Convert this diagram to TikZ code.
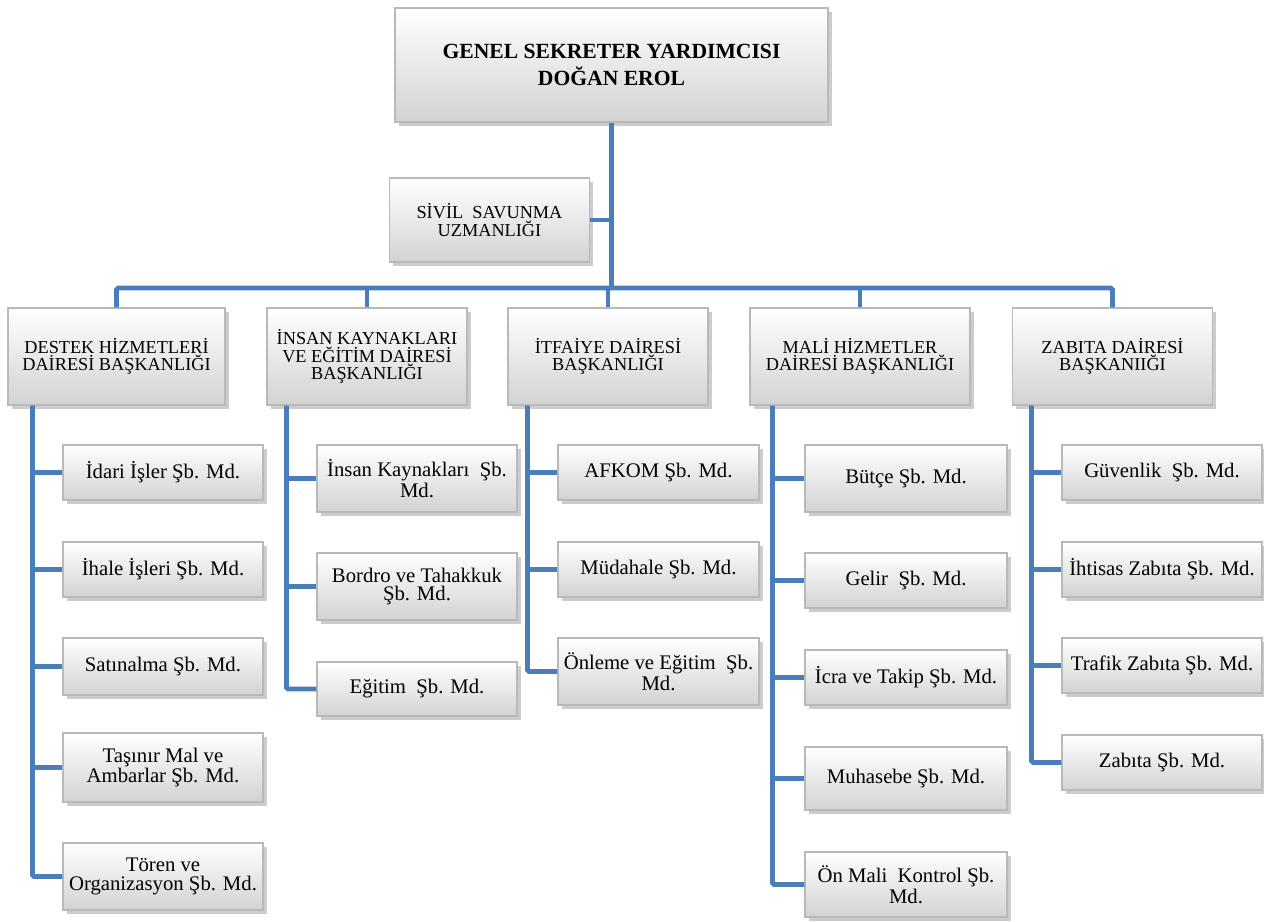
\documentclass[tikz,border=0pt]{standalone}
\usepackage{fontspec}
\setmainfont{Liberation Serif}
\usetikzlibrary{shadows}
\definecolor{linkblue}{HTML}{4A7EBB}

\begin{document}
\begin{tikzpicture}[x=0.02cm,y=-0.02cm,
		wh/.style 2 args={minimum width=#1*0.02cm,minimum height=#2*0.02cm},
		box/.style={draw=gray!55,line width=0.6pt,top color=white,bottom color=gray!35,
			drop shadow={shadow xshift=2pt,shadow yshift=-2.2pt,opacity=0.5,fill=gray!80},
			align=center,inner sep=2pt},
		headbox/.style={box,font=\fontsize{12.3}{15}\selectfont\bfseries},
		deptbox/.style={box,wh={200}{97},font=\fontsize{10.4}{10}\selectfont},
		unitbox/.style={box,font=\fontsize{11.8}{10.5}\selectfont},
		link/.style={draw=linkblue,line width=2.8pt,rounded corners=1pt},
		thinlink/.style={draw=linkblue,line width=1.8pt}]
	\useasboundingbox (0,0) rectangle (1264,921);

	% ust makam
	\node[headbox,wh={433}{114}] (gsy) at (611.5,65) {GENEL SEKRETER YARDIMCISI\\DOĞAN EROL};
	\node[deptbox,wh={200}{84}] (sivil) at (489.5,220) {SİVİL\ \ SAVUNMA\\UZMANLIĞI};

	% daire baskanliklari
	\node[deptbox,wh={217}{97}] (destek) at (116.5,356.5) {DESTEK HİZMETLERİ\\DAİRESİ BAŞKANLIĞI};
	\node[deptbox] (insan) at (367,356.5) {İNSAN KAYNAKLARI\\VE EĞİTİM DAİRESİ\\BAŞKANLIĞI};
	\node[deptbox] (itfaiye) at (608,356.5) {İTFAİYE DAİRESİ\\BAŞKANLIĞI};
	\node[deptbox,wh={220}{97}] (mali) at (860,356.5) {MALİ HİZMETLER\\DAİRESİ BAŞKANLIĞI};
	\node[deptbox] (zabita) at (1112.5,356.5) {ZABITA DAİRESİ\\BAŞKANIIĞI};

	% destek hizmetleri
	\node[unitbox,wh={200}{55}] (idari) at (163,472.5) {İdari İşler Şb. Md.};
	\node[unitbox,wh={200}{55}] (ihale) at (163,569.5) {İhale İşleri Şb. Md.};
	\node[unitbox,wh={200}{57}] (satinalma) at (163,666.5) {Satınalma Şb. Md.};
	\node[unitbox,wh={200}{69}] (tasinir) at (163,767.5) {Taşınır Mal ve\\Ambarlar Şb. Md.};
	\node[unitbox,wh={200}{67}] (toren) at (163,876.5) {Tören ve\\Organizasyon Şb. Md.};

	% insan kaynaklari
	\node[unitbox,wh={200}{67}] (ik) at (417,478.5) {İnsan Kaynakları\ \ Şb.\\Md.};
	\node[unitbox,wh={200}{67}] (bordro) at (417,586.5) {Bordro ve Tahakkuk\\Şb. Md.};
	\node[unitbox,wh={200}{54}] (egitim) at (417,689) {Eğitim\ \ Şb. Md.};

	% itfaiye
	\node[unitbox,wh={201}{55}] (afkom) at (658.5,472.5) {AFKOM Şb. Md.};
	\node[unitbox,wh={201}{55}] (mudahale) at (658.5,569.5) {Müdahale Şb. Md.};
	\node[unitbox,wh={201}{67}] (onleme) at (658.5,671.5) {Önleme ve Eğitim\ \ Şb.\\Md.};

	% mali hizmetler
	\node[unitbox,wh={202}{67}] (butce) at (906,478.5) {Bütçe Şb. Md.};
	\node[unitbox,wh={202}{55}] (gelir) at (906,580.5) {Gelir\ \ Şb. Md.};
	\node[unitbox,wh={202}{55}] (icra) at (906,677.5) {İcra ve Takip Şb. Md.};
	\node[unitbox,wh={202}{63}] (muhasebe) at (906,778.5) {Muhasebe Şb. Md.};
	\node[unitbox,wh={202}{65}] (onmali) at (906,884.5) {Ön Mali\ \ Kontrol Şb.\\Md.};

	% zabita
	\node[unitbox,wh={200}{55}] (guvenlik) at (1162,472.5) {Güvenlik\ \ Şb. Md.};
	\node[unitbox,wh={200}{55}] (ihtisas) at (1162,569.5) {İhtisas Zabıta Şb. Md.};
	\node[unitbox,wh={200}{55}] (trafik) at (1162,665.5) {Trafik Zabıta Şb. Md.};
	\node[unitbox,wh={200}{55}] (zabitamd) at (1162,762.5) {Zabıta Şb. Md.};

	% ana hat
	\coordinate (bus) at (0,288);
	\draw[link] (gsy.south) -- (gsy.south |- bus);
	\draw[thinlink] (sivil.east) -- (sivil.east -| gsy.south);
	\draw[link] (destek.north) |- (bus -| zabita.north) -- (zabita.north);
	\draw[link] (insan.north) -- (insan.north |- bus);
	\draw[link] (itfaiye.north) -- (itfaiye.north |- bus);
	\draw[link] (mali.north) -- (mali.north |- bus);

	% alt birimler
	\coordinate (dT) at ([xshift=-0.6cm]idari.west |- destek.south);
	\coordinate (iT) at ([xshift=-0.6cm]ik.west |- insan.south);
	\coordinate (fT) at ([xshift=-0.6cm]afkom.west |- itfaiye.south);
	\coordinate (mT) at ([xshift=-0.64cm]butce.west |- mali.south);
	\coordinate (zT) at ([xshift=-0.6cm]guvenlik.west |- zabita.south);
	\draw[link] (dT) |- (toren.west);
	\draw[link] (iT) |- (egitim.west);
	\draw[link] (fT) |- (onleme.west);
	\draw[link] (mT) |- (onmali.west);
	\draw[link] (zT) |- (zabitamd.west);
	\foreach \n in {idari,ihale,satinalma,tasinir} \draw[link] (dT |- \n.west) -- (\n.west);
	\foreach \n in {ik,bordro} \draw[link] (iT |- \n.west) -- (\n.west);
	\foreach \n in {afkom,mudahale} \draw[link] (fT |- \n.west) -- (\n.west);
	\foreach \n in {butce,gelir,icra,muhasebe} \draw[link] (mT |- \n.west) -- (\n.west);
	\foreach \n in {guvenlik,ihtisas,trafik} \draw[link] (zT |- \n.west) -- (\n.west);
\end{tikzpicture}
\end{document}
